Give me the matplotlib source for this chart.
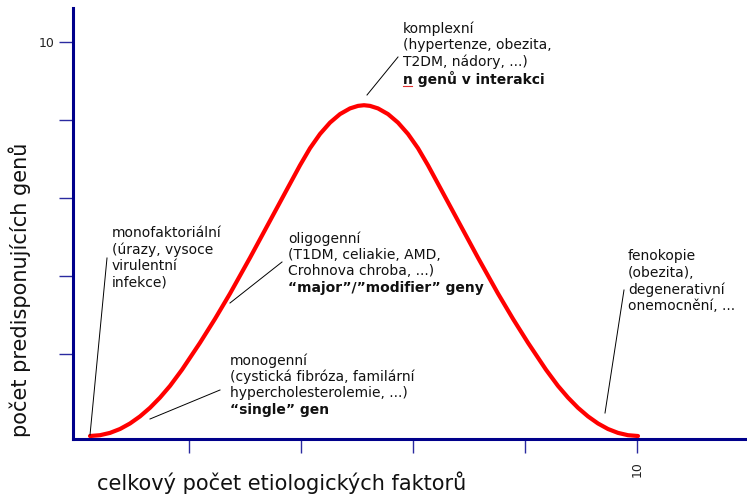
import matplotlib
matplotlib.use("Agg")
import matplotlib.pyplot as plt
from matplotlib.lines import Line2D

# Curve
curve_x = [0.232, 0.411, 0.589, 0.768, 0.946, 1.125, 1.304, 1.482, 1.661, 1.875, 2.196, 2.464,
           2.732, 3.089, 3.446, 3.750, 3.982, 4.161, 4.339, 4.518, 4.696, 4.875, 5.018, 5.125,
           5.232, 5.375, 5.554, 5.732, 5.911, 6.089, 6.268, 6.500, 6.804, 7.161, 7.518, 7.786,
           8.054, 8.375, 8.589, 8.768, 8.946, 9.125, 9.304, 9.482, 9.661, 9.839, 10.018]
curve_y = [-0.103, -0.082, -0.023, 0.077, 0.218, 0.400, 0.621, 0.882, 1.182, 1.597, 2.287, 2.900,
           3.549, 4.467, 5.415, 6.223, 6.838, 7.277, 7.641, 7.933, 8.151, 8.297, 8.362, 8.379,
           8.362, 8.297, 8.151, 7.933, 7.641, 7.277, 6.838, 6.223, 5.415, 4.467, 3.549, 2.900,
           2.287, 1.597, 1.182, 0.882, 0.621, 0.400, 0.218, 0.077, -0.023, -0.082, -0.103]

x_ticks = [2, 4, 6, 8, 10]
x_ticklabels = ["", "", "", "", "10"]
y_ticks = [2, 4, 6, 8, 10]
y_ticklabels = ["", "", "", "", "10"]

x_label = "celkový počet etiologických faktorů"
y_label = "počet predisponujících genů"

# annotation blocks: (left px, top px, lines, bold flags)
blocks = [
    (403, 21, ["komplexní", "(hypertenze, obezita,", "T2DM, nádory, ...)", "n genů v interakci"],
     [False, False, False, True]),
    (112, 226, ["monofaktoriální", "(úrazy, vysoce", "virulentní", "infekce)"],
     [False, False, False, False]),
    (288, 231, ["oligogenní", "(T1DM, celiakie, AMD,", "Crohnova chroba, ...)", "“major”/”modifier” geny"],
     [False, False, False, True]),
    (628, 249, ["fenokopie", "(obezita),", "degenerativní", "onemocnění, ..."],
     [False, False, False, False]),
    (230, 353, ["monogenní", "(cystická fibróza, familární", "hypercholesterolemie, ...)", "“single” gen"],
     [False, False, False, True]),
]
# leader lines in px: (x1, y1, x2, y2)
leaders = [
    (107, 258, 90, 435),
    (150, 419, 220, 390),
    (230, 303, 282, 262),
    (367, 95, 398, 57),
    (605, 413, 624, 290),
]

W, H = 747, 498
fig = plt.figure(figsize=(W / 100, H / 100), dpi=100)
ax = fig.add_axes([73 / W, 1 - 439 / H, 1 - 73 / W, (439 - 8) / H])

navy = "#00008B"
ax.plot(curve_x, curve_y, color="#FF0000", lw=3.0, solid_capstyle="round",
        solid_joinstyle="round", clip_on=False, zorder=3)

ax.set_xlim(-4 / 56, (747 - 77) / 56)
ax.set_ylim((432 - 439) / 39, (432 - 8) / 39)

for s in ["top", "right"]:
    ax.spines[s].set_visible(False)
for s in ["left", "bottom"]:
    ax.spines[s].set_color(navy)
    ax.spines[s].set_linewidth(2.2)
    ax.spines[s].set_zorder(2)

ax.set_xticks(x_ticks)
ax.set_xticklabels(x_ticklabels, rotation=90, fontsize=9, color="#222222")
ax.set_yticks(y_ticks)
ax.set_yticklabels(y_ticklabels, fontsize=9, color="#222222")
ax.tick_params(axis="x", length=10, width=1.0, color="#2a2aa0", direction="out", pad=6)
ax.tick_params(axis="y", length=10, width=1.0, color="#2a2aa0", direction="out", pad=3)

fig.text(97 / W, 1 - 483 / H, x_label, fontsize=15, va="center", ha="left", color="#111111")
fig.text(20 / W, 1 - 290 / H, y_label, fontsize=15, va="center", ha="center", rotation=90, color="#111111")

pitch = 16.6
for (x0, y0, lines, bolds) in blocks:
    for i, (ln, b) in enumerate(zip(lines, bolds)):
        fig.text(x0 / W, 1 - (y0 + i * pitch) / H, ln, fontsize=10,
                 fontweight="bold" if b else "normal", va="top", ha="left", color="#111111")

for (x1, y1, x2, y2) in leaders:
    fig.add_artist(Line2D([x1 / W, x2 / W], [1 - y1 / H, 1 - y2 / H], color="black", lw=0.7,
                          transform=fig.transFigure))

# spell-check underline under "n"
fig.add_artist(Line2D([403 / W, 412 / W], [1 - 86 / H, 1 - 86 / H], color="#e03030", lw=0.8,
                      transform=fig.transFigure))

fig.savefig("out.png", dpi=100)
